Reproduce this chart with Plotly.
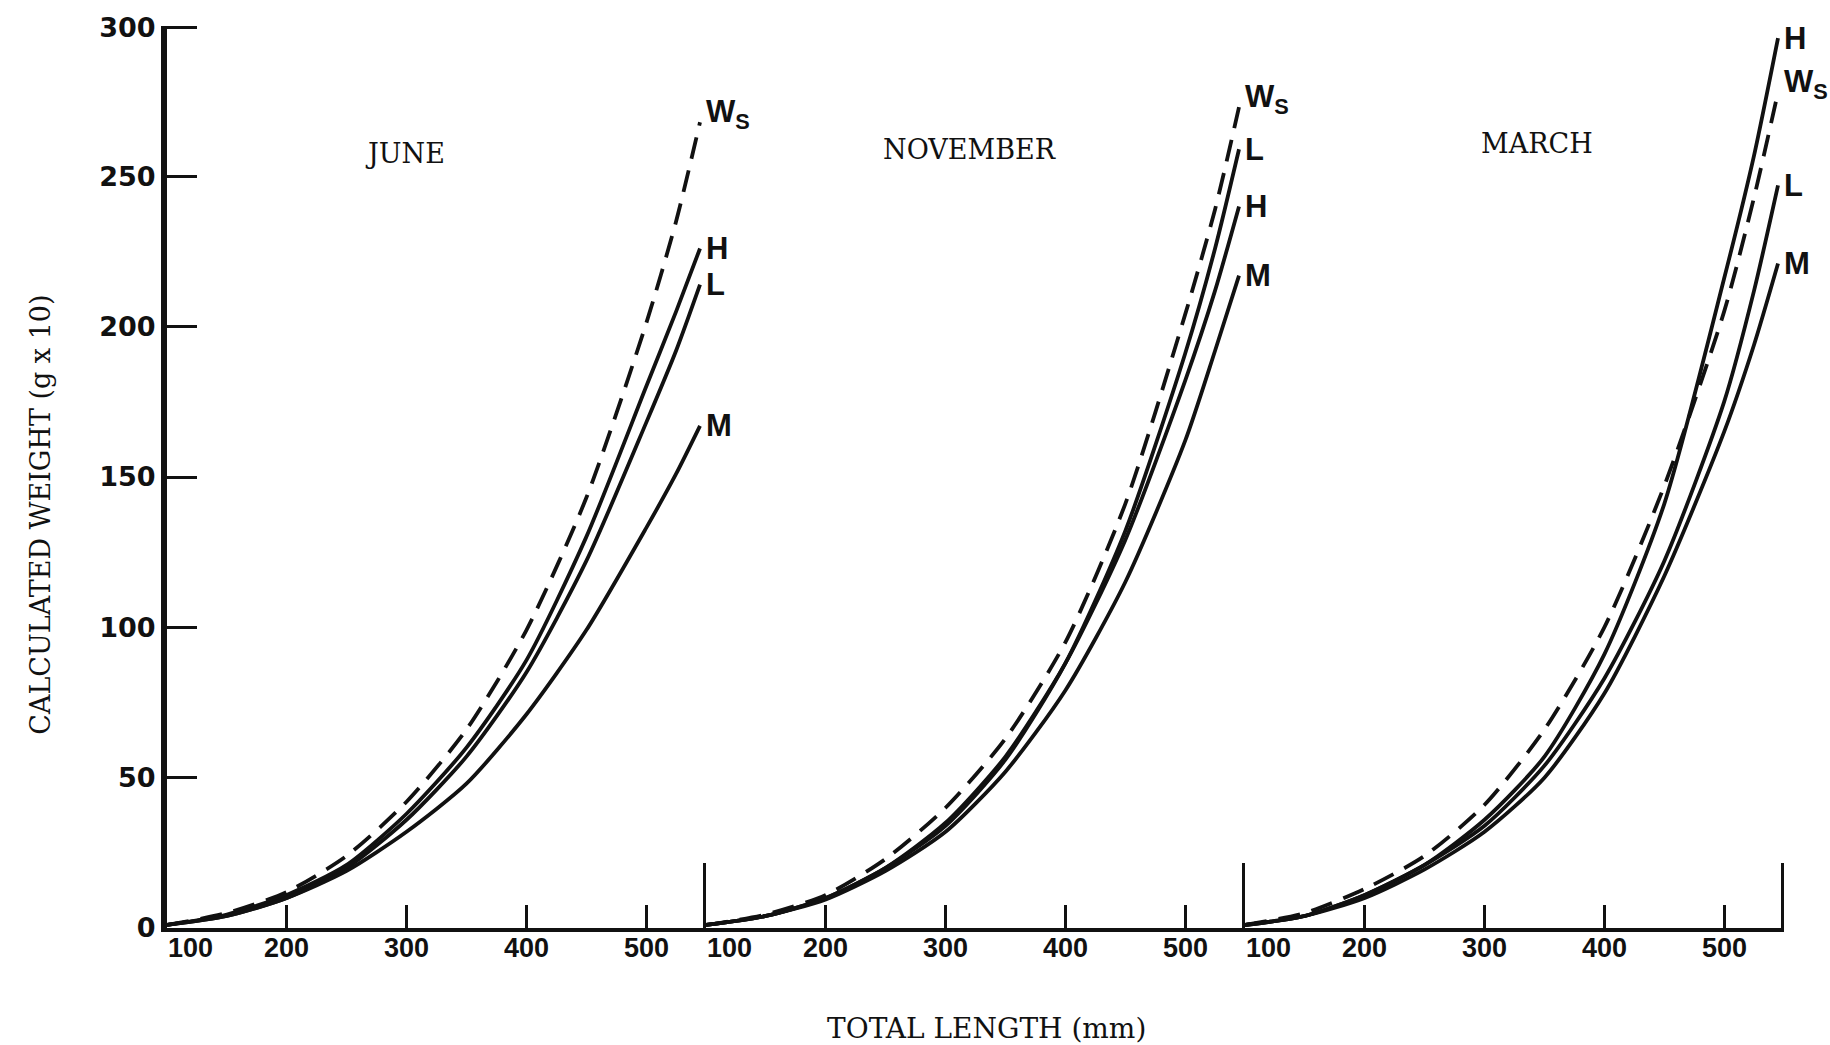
import plotly.graph_objects as go
from plotly.subplots import make_subplots

# Total length (mm) at which each curve is read
LENGTHS = [100, 150, 200, 250, 300, 350, 400, 450, 500, 525, 545]

MONTHS = ["JUNE", "NOVEMBER", "MARCH"]
CURVES = ["Ws", "H", "L", "M"]

# Calculated weight (g x 10) per curve and month
JUNE_WS = [1, 5, 12, 24, 42, 66, 99, 143, 201, 235, 268]
JUNE_H = [1, 4.5, 11, 21, 38, 60, 89, 130, 180, 205, 226]
JUNE_L = [1, 4, 10, 20, 36, 57, 85, 122, 168, 192, 214]
JUNE_M = [1, 4, 10, 19, 32, 48, 71, 99, 133, 151, 167]

NOV_WS = [1, 4.5, 11, 23, 40, 63, 95, 141, 204, 239, 273]
NOV_L = [1, 4, 10, 20, 34, 56, 88, 132, 191, 226, 259]
NOV_H = [1, 4, 10, 20, 35, 57, 88, 129, 182, 212, 240]
NOV_M = [1, 4, 9.5, 19, 32, 52, 79, 115, 162, 192, 217]

MAR_WS = [1, 5, 13, 24, 41, 66, 100, 147, 205, 243, 278]
MAR_H = [1, 4, 11, 21, 36, 57, 91, 141, 216, 257, 296]
MAR_L = [1, 4, 11, 21, 34, 54, 83, 122, 175, 212, 247]
MAR_M = [1, 4, 10, 19.5, 32, 50, 78, 117, 165, 194, 221]

SERIES = {
    "JUNE": {"Ws": JUNE_WS, "H": JUNE_H, "L": JUNE_L, "M": JUNE_M},
    "NOVEMBER": {"Ws": NOV_WS, "H": NOV_H, "L": NOV_L, "M": NOV_M},
    "MARCH": {"Ws": MAR_WS, "H": MAR_H, "L": MAR_L, "M": MAR_M},
}

CURVE_TEXT = {"Ws": "W<sub>S</sub>", "H": "H", "L": "L", "M": "M"}

Y_TICKS = [0, 50, 100, 150, 200, 250, 300]
X_TICK_LABELS = ["100", "200", "300", "400", "500"]
X_LABEL_POS = [120, 200, 300, 400, 500]
X_SHORT_TICKS = [200, 300, 400, 500]
X_PANEL_EDGES = [100, 550]

# Plotly drops inside ticks lying within 1px of an axis end, so marks on the
# very edges are nudged inwards by this much (in axis units).
EDGE_NUDGE_X = 1.2
EDGE_NUDGE_Y = 0.45
# one long divider mark at the right-hand end of every panel
x_long_ticks = [X_PANEL_EDGES[1] - EDGE_NUDGE_X]
y_tick_pos = [v if v < Y_TICKS[-1] else v - EDGE_NUDGE_Y for v in Y_TICKS]

# Paper positions of the month headings
TITLE_POS = {"JUNE": (0.147, 0.859), "NOVEMBER": (0.496, 0.863), "MARCH": (0.847, 0.870)}

INK = "#111111"
SERIF = "DejaVu Serif"
LABEL_FONT = dict(family="Liberation Sans Narrow, Liberation Sans, Arial", size=31,
                  color=INK, weight="bold")

fig = make_subplots(rows=1, cols=3, shared_yaxes=True, horizontal_spacing=0)

for p, month in enumerate(MONTHS):
    col = p + 1
    suffix = "" if col == 1 else str(col)
    for key in CURVES:
        vals = SERIES[month][key]
        fig.add_trace(
            go.Scatter(
                x=LENGTHS, y=vals, mode="lines",
                line=dict(color=INK, width=3.8, shape="spline", smoothing=0.7,
                          dash="22px,12px" if key == "Ws" else "solid"),
                showlegend=False, hoverinfo="skip", name=f"{month} {key}",
            ),
            row=1, col=col,
        )
        fig.add_annotation(
            x=LENGTHS[-1], y=vals[-1], xref="x" + suffix, yref="y" + suffix,
            text=CURVE_TEXT[key], showarrow=False, xanchor="left", yanchor="middle",
            xshift=4, yshift=8 if key == "Ws" else 0, font=LABEL_FONT,
        )
    # tick labels under each panel
    for pos, lab in zip(X_LABEL_POS, X_TICK_LABELS):
        fig.add_annotation(
            x=pos, y=0, xref="x" + suffix, yref="paper", text=lab, showarrow=False,
            xanchor="center", yanchor="top", yshift=-3,
            font=dict(family="Liberation Sans, Arial", size=27, color=INK, weight="bold"),
        )
    tx, ty = TITLE_POS[month]
    fig.add_annotation(
        x=tx, y=ty, xref="paper", yref="paper", text=month, showarrow=False,
        xanchor="center", yanchor="middle", font=dict(family=SERIF, size=27, color=INK),
    )
    fig.update_xaxes(
        range=X_PANEL_EDGES, showgrid=False, zeroline=False,
        showline=True, linewidth=4, linecolor=INK,
        tickmode="array", tickvals=x_long_ticks, ticks="inside", ticklen=65,
        tickwidth=3, tickcolor=INK, showticklabels=False,
        minor=dict(tickmode="array", tickvals=X_SHORT_TICKS, ticks="inside",
                   ticklen=23, tickwidth=3, tickcolor=INK, showgrid=False),
        row=1, col=col,
    )
    if col == 1:
        fig.update_yaxes(
            range=[Y_TICKS[0], Y_TICKS[-1]], showgrid=False, zeroline=False,
            showline=True, linewidth=6, linecolor=INK,
            tickmode="array", tickvals=y_tick_pos, ticktext=[str(v) for v in Y_TICKS],
            ticks="inside", ticklen=30, tickwidth=3, tickcolor=INK,
            tickfont=dict(family="DejaVu Sans", size=27, color=INK, weight="bold"),
            row=1, col=col,
        )
    else:
        fig.update_yaxes(range=[Y_TICKS[0], Y_TICKS[-1]], showgrid=False, zeroline=False,
                         showline=False, ticks="", showticklabels=False,
                         row=1, col=col)

fig.add_annotation(
    x=-0.078, y=0.458, xref="paper", yref="paper", text="CALCULATED WEIGHT (g x 10)",
    textangle=-90, showarrow=False, xanchor="center", yanchor="middle",
    font=dict(family=SERIF, size=27, color=INK),
)
fig.add_annotation(
    x=0.5065, y=-0.111, xref="paper", yref="paper", text="TOTAL LENGTH (mm)",
    showarrow=False, xanchor="center", yanchor="middle",
    font=dict(family=SERIF, size=28, color=INK),
)

fig.update_layout(
    width=1830, height=1045,
    margin=dict(l=167, r=46, t=21, b=117),
    paper_bgcolor="white", plot_bgcolor="white",
    showlegend=False,
)

fig.write_html("out.html")
